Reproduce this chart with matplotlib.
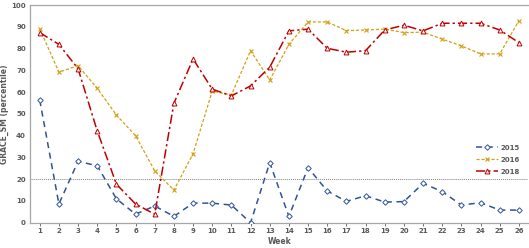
import matplotlib
matplotlib.use("Agg")
import matplotlib.pyplot as plt

weeks = list(range(1, 27))
s2015 = [56.4, 8.6, 28.2, 26.2, 11.0, 3.9, 7.7, 2.9, 9.0, 9.0, 8.1, 0.0, 27.6, 2.9,
         25.3, 14.6, 9.8, 12.4, 9.5, 9.7, 18.1, 14.3, 8.1, 9.2, 5.8, 5.8]
s2016 = [89.2, 69.2, 72.2, 61.8, 49.5, 40.0, 23.8, 15.0, 31.7, 60.5, 58.7, 79.1, 65.6, 82.0,
         92.3, 92.3, 88.3, 88.6, 89.0, 87.4, 87.6, 84.4, 81.3, 77.6, 77.6, 92.9]
s2018 = [87.4, 82.0, 70.8, 42.2, 17.7, 8.6, 3.9, 54.9, 75.3, 61.4, 58.3, 62.9, 71.5, 88.2,
         89.0, 80.2, 78.4, 79.1, 88.6, 90.8, 88.2, 91.7, 91.7, 91.7, 88.6, 82.8]
threshold = 20
yticks = list(range(0, 101, 10))

fig = plt.figure(figsize=(5.29, 2.48), dpi=100)
ax = fig.add_axes([0.057, 0.102, 0.942, 0.877])

tc = "#595959"
ax.axhline(threshold, color="#808080", lw=0.7, ls=(0, (1, 1)), zorder=1)

ax.plot(weeks, s2015, color="#2F5597", lw=1.1, ls=(0, (4, 3)), marker="D", ms=2.8,
        mfc="white", mec="#2F5597", mew=0.7, label="2015", zorder=3)
ax.plot(weeks, s2016, color="#D4A017", lw=0.9, ls=(0, (2.5, 1.5)), marker="x", ms=3.5,
        mec="#D4A017", mew=0.8, label="2016", zorder=3)
ax.plot(weeks, s2018, color="#C00000", lw=1.1, ls=(0, (6, 2, 1.5, 2)), marker="^", ms=3.5,
        mfc="white", mec="#C00000", mew=0.7, label="2018", zorder=3)

ax.set_xlim(0.5, 26.5)
ax.set_ylim(0, 100)
ax.set_xticks(weeks)
ax.set_yticks(yticks)
ax.tick_params(axis="both", labelsize=5, colors=tc, length=2, width=0.6, pad=2)
for lab in ax.get_xticklabels() + ax.get_yticklabels():
    lab.set_fontweight("bold")
ax.tick_params(axis="y", length=0, pad=3)

for side in ["left", "bottom", "top"]:
    ax.spines[side].set_color("#A6A6A6")
    ax.spines[side].set_linewidth(0.9)
ax.spines["right"].set_visible(False)

ax.set_xlabel("Week", fontsize=5.5, fontweight="bold", color=tc)
ax.xaxis.set_label_coords(0.5, -0.065)
ax.set_ylabel("GRACE_SM (percentile)", fontsize=5.5, fontweight="bold", color=tc)
ax.yaxis.set_label_coords(-0.042, 0.5)

leg = ax.legend(loc="upper left", bbox_to_anchor=(0.885, 0.38), fontsize=5, frameon=False,
                handlelength=3.2, handletextpad=0.3, labelspacing=0.85, borderpad=0.2)
for t in leg.get_texts():
    t.set_color(tc)
    t.set_fontweight("bold")

fig.savefig("out.png", dpi=100)
